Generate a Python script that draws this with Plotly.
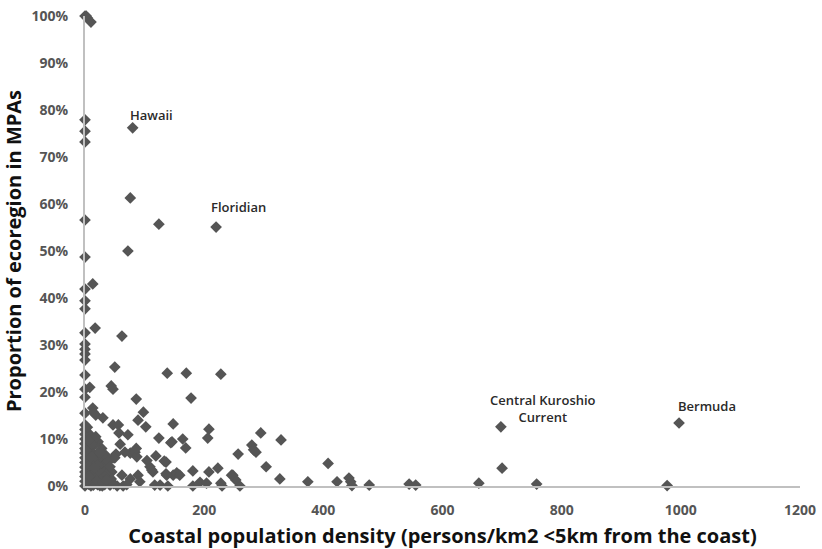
import plotly.graph_objects as go

# Coastal population density (persons/km2 <5km from coast)
density = [
    0, 2, 4, 10, 0, 0, 0, 0, 0, 0, 0, 0, 0, 0, 0, 0, 0, 0, 0, 0,
    0, 0, 0, 0, 0, 0, 0, 0, 0, 0, 0, 0, 0, 0, 0,
    80, 76, 124, 220, 72, 13, 17, 62, 50, 138, 170, 228, 8, 44, 47,
    86, 178, 13, 14, 18, 30, 89, 102, 148, 47, 57, 72, 124, 144, 164,
    169, 208, 206, 295, 329, 280, 283, 257, 408, 304, 22, 59, 47, 52, 76,
    84, 87, 104, 119, 136, 181, 208, 223, 248, 253, 327, 374, 423, 443, 446,
    448, 477, 544, 555, 661, 700, 698, 758, 977, 997, 260, 181, 193, 204, 230,
    228, 117, 126, 139, 109, 114, 154, 148, 136, 76, 89, 92, 62, 45, 42,
    54, 64, 70, 50, 67, 86, 112, 133, 137, 159, 246, 287, 146, 56, 98,
    3, 5, 8, 12, 15, 3, 6, 10, 14, 18, 22, 26, 30, 34, 38,
    4, 7, 11, 15, 19, 23, 27, 31, 35, 40, 2, 5, 9, 13, 17,
    21, 25, 29, 33, 6, 10, 14, 18, 24, 28, 32, 36, 20, 16, 40,
    44, 48, 25, 12, 35, 28, 8, 4, 18, 2, 6, 9, 20, 26, 33,
    38, 42, 3, 7, 15, 22, 30, 36, 11, 16,
]

# Proportion of ecoregion in MPAs (%)
mpa_pct = [
    100, 100, 99.6, 98.7, 77.9, 75.5, 73.2, 56.6, 48.7, 41.9, 39.4, 37.7, 32.6, 30.2, 29.1, 28.1, 26.8, 23.6, 20.6, 18.9,
    15.5, 13, 12, 11, 10, 9, 8, 7, 6, 5, 4, 3, 2, 1, 0,
    76.2, 61.3, 55.7, 55.1, 50, 43, 33.6, 31.9, 25.3, 24, 24, 23.8, 21, 21.3, 20.6,
    18.5, 18.7, 16.6, 15.7, 15.1, 14.5, 14, 12.6, 13.2, 13, 11.3, 10.9, 10.2, 9.2, 10,
    8.1, 12.1, 10.2, 11.3, 9.8, 8.7, 7.7, 6.8, 4.8, 4.1, 9.4, 8.9, 6, 6.8, 7,
    7.2, 6.2, 5.4, 6.4, 5.1, 3.2, 3, 3.8, 2.3, 1.3, 1.5, 0.9, 0.9, 1.7, 0.9,
    0.1, 0.2, 0.4, 0.2, 0.6, 3.8, 12.6, 0.4, 0.1, 13.4, 0, 0, 0.8, 0.6, 0,
    0.6, 0.2, 0.2, 0, 4.1, 3, 2.8, 2.3, 2.6, 1.5, 2.3, 0.9, 2.3, 3, 0.2,
    0, 0, 0.3, 6, 7.2, 8, 3.4, 5.3, 2.3, 2.3, 2.3, 7.2, 9.4, 13, 15.7,
    9.5, 8.5, 7.8, 7.2, 6.5, 6.8, 5.8, 5.2, 4.8, 4.2, 3.8, 3.5, 3, 2.6, 2.2,
    4, 3.6, 3.2, 2.8, 2.4, 2, 1.6, 1.2, 0.8, 0.5, 2.5, 1.8, 1.4, 1, 0.6,
    0.3, 0.1, 0, 0.3, 0.4, 0, 0.2, 1.8, 5, 6, 4.5, 3.5, 6.8, 8.8, 3,
    1.5, 0.5, 2.8, 9, 6.5, 8, 11, 12.5, 10.5, 7.5, 9.8, 4.6, 1.1, 7.1, 1.9,
    5.2, 4.1, 0.8, 2.1, 5.6, 4.4, 0.7, 1.3, 6.1, 3.9,
]

labels = ["Hawaii", "Floridian", "Central Kuroshio<br>Current", "Bermuda"]
label_x = [80, 220, 698, 997]
label_y = [76.2, 55.1, 12.6, 13.4]
label_shift = [(19, 13), (22, 20), (42, 18), (28, 17)]

x_ticks = [0, 200, 400, 600, 800, 1000, 1200]
y_ticks = [0, 10, 20, 30, 40, 50, 60, 70, 80, 90, 100]

FONT = "Open Sans"

fig = go.Figure(
    go.Scatter(
        x=density,
        y=[v / 100 for v in mpa_pct],
        mode="markers",
        marker=dict(symbol="diamond", size=9, color="#555555", line=dict(width=0)),
        cliponaxis=False,
        hoverinfo="skip",
    )
)

for t, lx, ly, (dx, dy) in zip(labels, label_x, label_y, label_shift):
    fig.add_annotation(
        x=lx, y=ly / 100, text=t, showarrow=False,
        xshift=dx, yshift=dy,
        font=dict(family=FONT, size=13, color="#2a2a2a", weight=600),
    )

fig.update_layout(
    width=822, height=549,
    margin=dict(l=85, r=22, t=16, b=63, autoexpand=False),
    paper_bgcolor="white", plot_bgcolor="white",
    showlegend=False,
    font=dict(family=FONT),
)
fig.update_xaxes(
    range=[0, 1200], tickvals=x_ticks, ticktext=[str(v) for v in x_ticks],
    showgrid=False, zeroline=False, showline=True, linecolor="#c0c0c0", linewidth=2,
    ticks="", ticklabelstandoff=10, automargin=False,
    tickfont=dict(family=FONT, size=14, color="#555555", weight="bold"),
    title=dict(text="Coastal population density (persons/km2 <5km from the coast)",
               font=dict(family=FONT, size=20, color="#111111", weight="bold")),
)
fig.update_yaxes(
    range=[0, 1], tickvals=[v / 100 for v in y_ticks], ticktext=[f"{v}%" for v in y_ticks],
    showgrid=False, zeroline=False, showline=True, linecolor="#c0c0c0", linewidth=2,
    ticks="", ticklabelstandoff=12, automargin=False,
    tickfont=dict(family=FONT, size=14, color="#555555", weight="bold"),
    title=dict(text="Proportion of ecoregion in MPAs",
               font=dict(family=FONT, size=20, color="#111111", weight="bold")),
)

fig.write_html(
    "out.html",
    config={"displayModeBar": False},
    post_script="document.body.style.margin='0';document.body.style.overflow='hidden';",
)
